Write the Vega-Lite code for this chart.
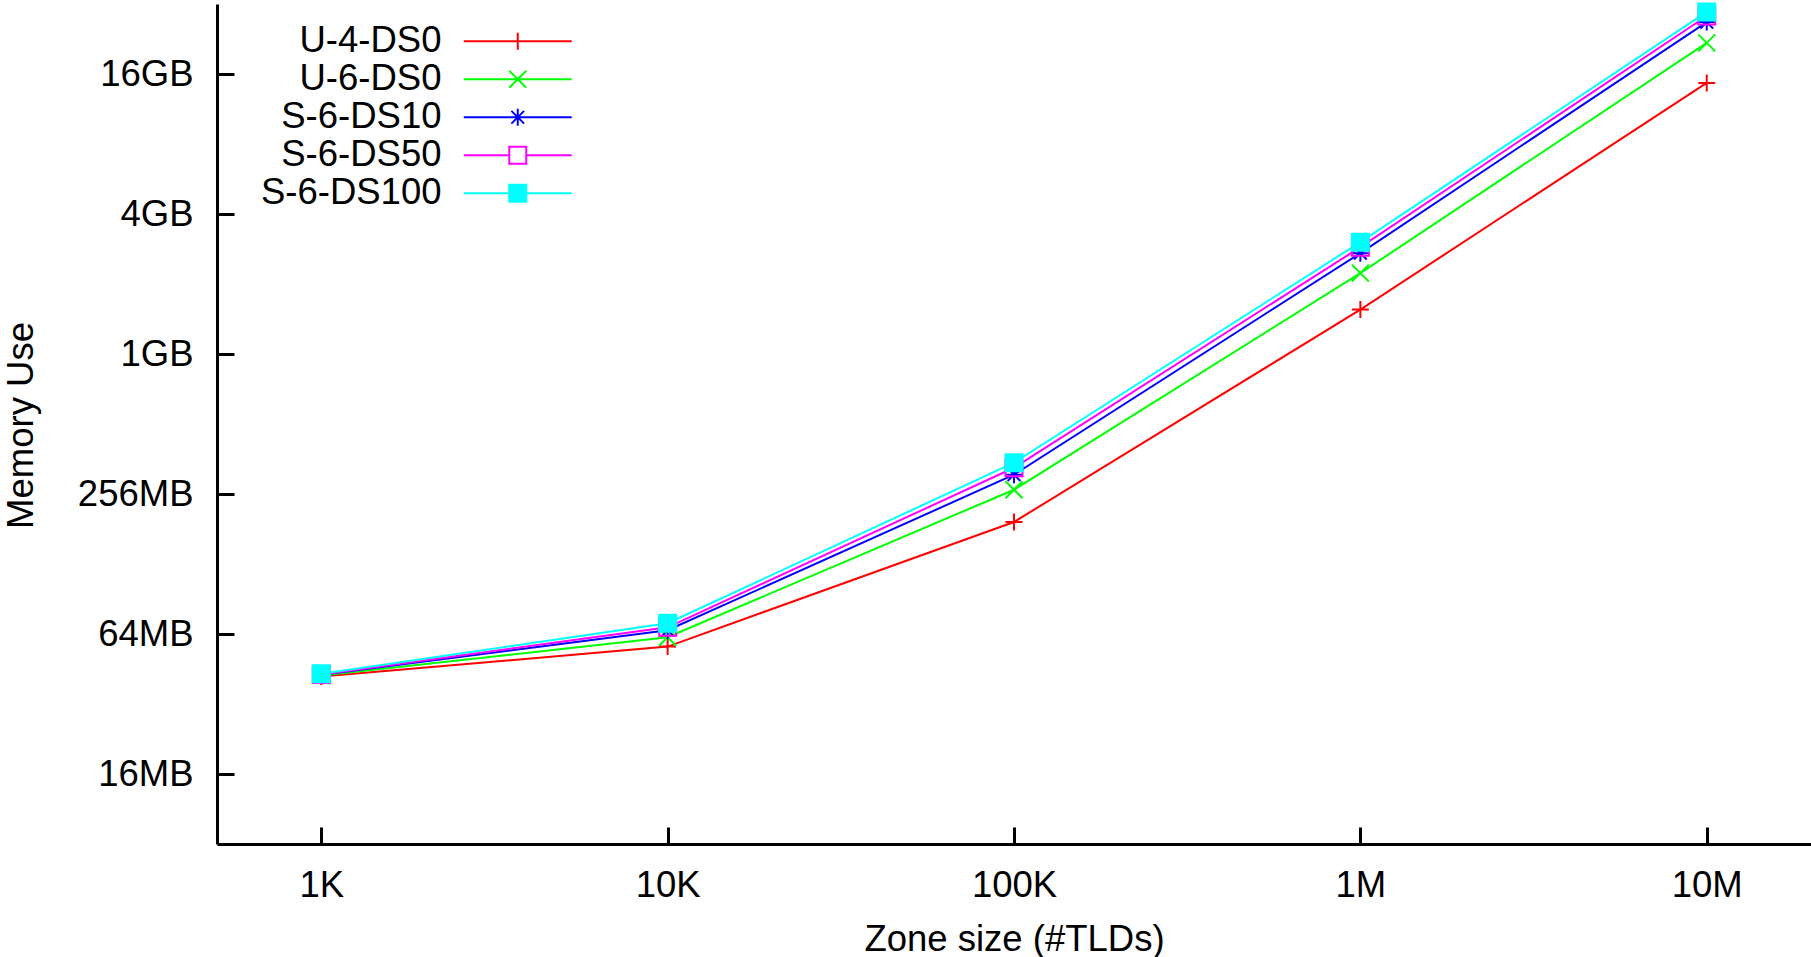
{
  "$schema": "https://vega.github.io/schema/vega-lite/v6.json",
  "width": 1594,
  "height": 840,
  "autosize": {"type": "none"},
  "padding": {"left": 217, "top": 4, "right": 0, "bottom": 113},
  "background": "white",
  "config": {
    "view": {"stroke": null},
    "font": "Liberation Sans",
    "axis": {
      "grid": false,
      "domainColor": "black",
      "domainWidth": 3,
      "tickColor": "black",
      "tickWidth": 3,
      "tickSize": -17,
      "labelFont": "Liberation Sans",
      "labelFontSize": 36.5,
      "labelColor": "black",
      "titleFont": "Liberation Sans",
      "titleFontSize": 36.5,
      "titleFontWeight": "normal",
      "titleColor": "black"
    }
  },
  "data": {
    "values": [
      {"series": "U-4-DS0", "tlds": 1000, "mb": 42},
      {"series": "U-4-DS0", "tlds": 10000, "mb": 56.5},
      {"series": "U-4-DS0", "tlds": 100000, "mb": 194},
      {"series": "U-4-DS0", "tlds": 1000000, "mb": 1590},
      {"series": "U-4-DS0", "tlds": 10000000, "mb": 15000},
      {"series": "U-6-DS0", "tlds": 1000, "mb": 42.4},
      {"series": "U-6-DS0", "tlds": 10000, "mb": 62},
      {"series": "U-6-DS0", "tlds": 100000, "mb": 267},
      {"series": "U-6-DS0", "tlds": 1000000, "mb": 2280},
      {"series": "U-6-DS0", "tlds": 10000000, "mb": 22300},
      {"series": "S-6-DS10", "tlds": 1000, "mb": 42.7},
      {"series": "S-6-DS10", "tlds": 10000, "mb": 66.4},
      {"series": "S-6-DS10", "tlds": 100000, "mb": 310},
      {"series": "S-6-DS10", "tlds": 1000000, "mb": 2780},
      {"series": "S-6-DS10", "tlds": 10000000, "mb": 27400},
      {"series": "S-6-DS50", "tlds": 1000, "mb": 42.9},
      {"series": "S-6-DS50", "tlds": 10000, "mb": 68.4},
      {"series": "S-6-DS50", "tlds": 100000, "mb": 332},
      {"series": "S-6-DS50", "tlds": 1000000, "mb": 2950},
      {"series": "S-6-DS50", "tlds": 10000000, "mb": 29100},
      {"series": "S-6-DS100", "tlds": 1000, "mb": 43.2},
      {"series": "S-6-DS100", "tlds": 10000, "mb": 71.2},
      {"series": "S-6-DS100", "tlds": 100000, "mb": 349},
      {"series": "S-6-DS100", "tlds": 1000000, "mb": 3100},
      {"series": "S-6-DS100", "tlds": 10000000, "mb": 30300}
    ]
  },
  "encoding": {
    "x": {
      "field": "tlds",
      "type": "quantitative",
      "scale": {"type": "log", "domain": [500, 20000000]},
      "axis": {
        "values": [1000, 10000, 100000, 1000000, 10000000],
        "labelExpr": "datum.value >= 1000000 ? (datum.value / 1000000) + 'M' : (datum.value / 1000) + 'K'",
        "labelBaseline": "middle",
        "labelPadding": 58,
        "labelFlush": false,
        "title": "Zone size (#TLDs)",
        "titleX": 797,
        "titleY": 95,
        "titleBaseline": "middle",
        "titleAnchor": null
      }
    },
    "y": {
      "field": "mb",
      "type": "quantitative",
      "scale": {"type": "log", "base": 2, "domain": [8, 32768]},
      "axis": {
        "values": [16, 64, 256, 1024, 4096, 16384],
        "labelExpr": "datum.value >= 1024 ? (datum.value / 1024) + 'GB' : datum.value + 'MB'",
        "labelPadding": 41,
        "labelFlush": false,
        "title": "Memory Use",
        "titleX": -196,
        "titleY": 421,
        "titleAngle": -90,
        "titleAlign": "center",
        "titleBaseline": "middle",
        "titleAnchor": null
      }
    }
  },
  "layer": [
    {
      "mark": {"type": "line", "strokeWidth": 2},
      "encoding": {
        "stroke": {
          "field": "series",
          "type": "nominal",
          "scale": {
            "domain": ["U-4-DS0", "U-6-DS0", "S-6-DS10", "S-6-DS50", "S-6-DS100"],
            "range": ["#ff0000", "#00ff00", "#0000ff", "#ff00ff", "#00ffff"]
          },
          "legend": null
        }
      }
    },
    {
      "mark": {"type": "point", "strokeWidth": 2, "opacity": 1, "size": 289},
      "encoding": {
        "stroke": {"field": "series", "type": "nominal", "legend": null},
        "shape": {
          "field": "series",
          "type": "nominal",
          "scale": {
            "domain": ["U-4-DS0", "U-6-DS0", "S-6-DS10", "S-6-DS50", "S-6-DS100"],
            "range": [
              "M-1,0H1M0,-1V1",
              "M-1,-1L1,1M-1,1L1,-1",
              "M-1,0H1M0,-1V1M-0.75,-0.75L0.75,0.75M-0.75,0.75L0.75,-0.75",
              "M-1,-1H1V1H-1Z",
              "M-1,-1H1V1H-1Z"
            ]
          },
          "legend": null
        },
        "fill": {
          "field": "series",
          "type": "nominal",
          "scale": {
            "domain": ["U-4-DS0", "U-6-DS0", "S-6-DS10", "S-6-DS50", "S-6-DS100"],
            "range": ["transparent", "transparent", "transparent", "transparent", "#00ffff"]
          },
          "legend": null
        }
      }
    },
    {
      "mark": {"type": "point", "strokeWidth": 2, "opacity": 0, "size": 289},
      "encoding": {
        "stroke": {
          "field": "series",
          "type": "nominal",
          "legend": {
            "title": null, "orient": "none", "legendX": 282.5, "legendY": 19, "padding": 0,
            "rowPadding": 1, "symbolSize": 289, "symbolStrokeWidth": 2, "symbolOpacity": 1,
            "labelFont": "Liberation Sans", "labelFontSize": 36.5, "labelColor": "black",
            "labelAlign": "right", "labelOffset": -94.5, "labelLimit": 0
          }
        },
        "shape": {
          "field": "series",
          "type": "nominal",
          "scale": {
            "domain": ["U-4-DS0", "U-6-DS0", "S-6-DS10", "S-6-DS50", "S-6-DS100"],
            "range": [
              "M-1,0H1M0,-1V1M-6.35,0H6.35",
              "M-1,-1L1,1M-1,1L1,-1M-6.35,0H6.35",
              "M-1,0H1M0,-1V1M-0.75,-0.75L0.75,0.75M-0.75,0.75L0.75,-0.75M-6.35,0H6.35",
              "M-1,-1H1V1H-1ZM-6.35,0H-1M1,0H6.35",
              "M-1,-1H1V1H-1ZM-6.35,0H6.35"
            ]
          },
          "legend": {
            "title": null, "orient": "none", "legendX": 282.5, "legendY": 19, "padding": 0,
            "rowPadding": 1, "symbolSize": 289, "symbolStrokeWidth": 2, "symbolOpacity": 1,
            "labelFont": "Liberation Sans", "labelFontSize": 36.5, "labelColor": "black",
            "labelAlign": "right", "labelOffset": -94.5, "labelLimit": 0
          }
        },
        "fill": {
          "field": "series",
          "type": "nominal",
          "legend": {
            "title": null, "orient": "none", "legendX": 282.5, "legendY": 19, "padding": 0,
            "rowPadding": 1, "symbolSize": 289, "symbolStrokeWidth": 2, "symbolOpacity": 1,
            "labelFont": "Liberation Sans", "labelFontSize": 36.5, "labelColor": "black",
            "labelAlign": "right", "labelOffset": -94.5, "labelLimit": 0
          }
        }
      }
    }
  ],
  "resolve": {
    "scale": {"shape": "independent"},
    "legend": {"stroke": "independent", "shape": "independent", "fill": "independent"}
  }
}
